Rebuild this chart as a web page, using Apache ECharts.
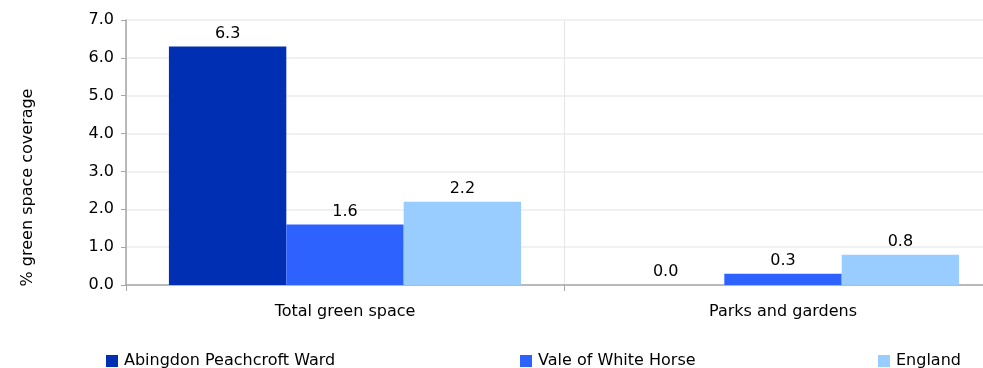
<!DOCTYPE html>
<html>
<head>
<meta charset="utf-8">
<script src="https://cdn.jsdelivr.net/npm/echarts@6/dist/echarts.min.js"></script>
<style>html,body{margin:0;padding:0;background:#fff}#c{width:983px;height:368px}</style>
</head>
<body>
<div id="c"></div>
<script>
var categories = ["Total green space", "Parks and gardens"];
var seriesNames = ["Abingdon Peachcroft Ward", "Vale of White Horse", "England"];
var ward = [6.3, 0.0];
var vale = [1.6, 0.3];
var england = [2.2, 0.8];
var colors = ["#002FB4", "#2E62FF", "#99CCFF"];
var yTicks = [0, 1, 2, 3, 4, 5, 6, 7];

var chart = echarts.init(document.getElementById('c'));
var font = "DejaVu Sans, sans-serif";
var values = [ward, vale, england];
var series = seriesNames.map(function (n, i) {
  return {
    name: n, type: 'bar', data: values[i], barGap: '0%', barCategoryGap: '19.6%',
    itemStyle: { color: colors[i] },
    label: { show: true, position: 'top', distance: 5, color: '#000', fontSize: 16, fontFamily: font,
      formatter: function (p) { return p.value.toFixed(1); } }
  };
});
var legendLefts = [106, 520, 878];
var legends = seriesNames.map(function (n, i) {
  return { data: [n], left: legendLefts[i], top: 353, itemWidth: 12, itemHeight: 12, itemGap: 0,
    icon: 'rect', textStyle: { fontSize: 16, fontFamily: font, color: '#000', padding: [0, 0, 0, 1] }, padding: 0 };
});
chart.setOption({
  animation: false,
  color: colors,
  grid: { left: 126, width: 876, top: 20, bottom: 83, outerBoundsMode: 'none', containLabel: false },
  legend: legends,
  xAxis: {
    type: 'category', data: categories,
    axisLine: { lineStyle: { color: '#a6a6a6', width: 1.5 } },
    axisTick: { show: true, length: 6, lineStyle: { color: '#a6a6a6' } },
    axisLabel: { fontSize: 16, fontFamily: font, color: '#000', margin: 19 },
    splitLine: { show: true, lineStyle: { color: '#e6e6e6' } }
  },
  yAxis: {
    type: 'value', min: yTicks[0], max: yTicks[yTicks.length - 1], interval: 1,
    name: '% green space coverage', nameLocation: 'middle', nameGap: 90, nameRotate: 90,
    nameTextStyle: { fontSize: 16, fontFamily: font, color: '#000', padding: [0, 70, 0, 0] },
    axisLine: { show: true, lineStyle: { color: '#a6a6a6', width: 1.5 } },
    axisTick: { show: true, length: 5, lineStyle: { color: '#a6a6a6' } },
    axisLabel: { fontSize: 16, fontFamily: font, color: '#000', margin: 12,
      formatter: function (v) { return v.toFixed(1); } },
    splitLine: { show: true, lineStyle: { color: '#ededed', width: 1.5 } }
  },
  series: series
});
</script>
</body>
</html>
